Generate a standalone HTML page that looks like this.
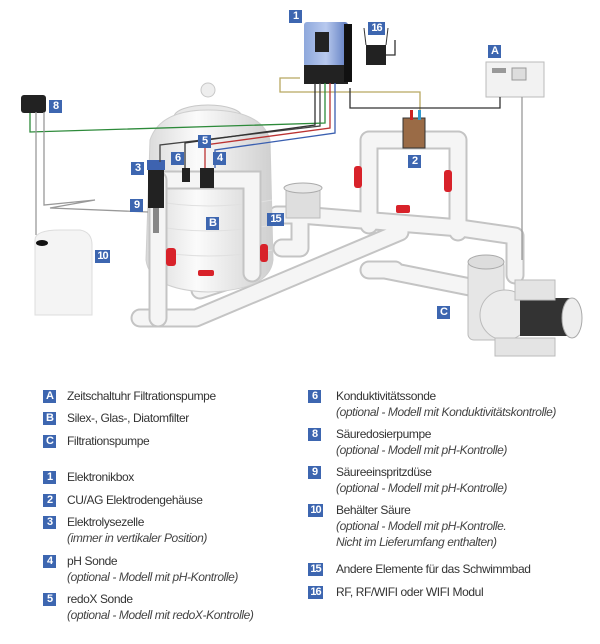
<!DOCTYPE html>
<html><head><meta charset="utf-8"><style>
body{margin:0;background:#fff;width:600px;height:644px;overflow:hidden;position:relative;font-family:"Liberation Sans",sans-serif}
svg{position:absolute;left:0;top:0}
.b{position:absolute;width:13px;height:13px;background:#3d66b0;color:#fff;font:bold 11px/13px "Liberation Sans",sans-serif;text-align:center;letter-spacing:-1px}
.t{position:absolute;font-size:12px;line-height:16px;color:#333;letter-spacing:-0.4px;white-space:nowrap}
.t i{color:#444}
</style></head><body>
<svg width="600" height="380" viewBox="0 0 600 380">
<defs>
<linearGradient id="tank" x1="0" x2="1"><stop offset="0" stop-color="#d9d9d9"/><stop offset=".4" stop-color="#fbfbfb"/><stop offset="1" stop-color="#cfcfcf"/></linearGradient>
<linearGradient id="box" x1="0" x2="1"><stop offset="0" stop-color="#8ea8dc"/><stop offset=".5" stop-color="#b8c9ee"/><stop offset="1" stop-color="#5d7bc0"/></linearGradient>
</defs>
<g fill="none" stroke-linecap="round" stroke-linejoin="round">
<g stroke="#c4c4c4" stroke-width="19">
<path d="M158 180 V318 H140 M140 318 H196 L400 232"/>
<path d="M158 180 H252 V273 L200 290"/>
<path d="M277 215 H300 V248 H282"/>
<path d="M300 215 L460 228 L515 236 V275"/>
<path d="M369 225 V140 H458 V232"/>
<path d="M369 270 H395 M385 270 L470 287"/>
</g>
<g stroke="#f5f5f5" stroke-width="15">
<path d="M158 180 V318 H140 M140 318 H196 L400 232"/>
<path d="M158 180 H252 V273 L200 290"/>
<path d="M277 215 H300 V248 H282"/>
<path d="M300 215 L460 228 L515 236 V275"/>
<path d="M369 225 V140 H458 V232"/>
<path d="M369 270 H395 M385 270 L470 287"/>
</g>
</g>
<ellipse cx="208" cy="117" rx="34" ry="12" fill="#e8e8e8" stroke="#c8c8c8"/>
<circle cx="208" cy="90" r="7" fill="#eee" stroke="#c8c8c8"/>
<path d="M150 140 Q160 110 208 110 Q262 110 270 140 L273 260 Q270 290 208 292 Q150 290 146 260 Z" fill="url(#tank)" stroke="#cfcfcf"/>
<g stroke="#e0e0e0" fill="none"><path d="M148 200 Q208 212 272 200"/><path d="M148 225 Q208 237 272 225"/><path d="M148 250 Q208 262 272 250"/></g>
<g fill="none" stroke-linecap="round">
<path d="M158 180 H252 V273" stroke="#c4c4c4" stroke-width="19"/>
<path d="M158 180 H252 V273" stroke="#f5f5f5" stroke-width="15"/>
<path d="M158 180 V318" stroke="#c4c4c4" stroke-width="19"/>
<path d="M158 180 V318" stroke="#f5f5f5" stroke-width="15"/>
</g>
<rect x="147" y="160" width="18" height="10" fill="#3e63b0"/>
<rect x="148" y="170" width="16" height="38" fill="#222"/>
<rect x="153" y="208" width="6" height="25" fill="#888"/>
<rect x="182" y="168" width="8" height="14" fill="#222"/><rect x="200" y="168" width="14" height="20" fill="#222"/>
<g fill="#d8222a"><rect x="166" y="248" width="10" height="18" rx="3"/><rect x="260" y="244" width="8" height="18" rx="3"/><rect x="198" y="270" width="16" height="6" rx="2"/><rect x="354" y="166" width="8" height="22" rx="3"/><rect x="444" y="170" width="8" height="22" rx="3"/><rect x="396" y="205" width="14" height="8" rx="2"/></g>
<rect x="286" y="188" width="34" height="30" fill="#dedede" stroke="#bbb"/>
<ellipse cx="303" cy="188" rx="19" ry="5" fill="#e9e9e9" stroke="#aaa"/>
<rect x="403" y="118" width="22" height="30" fill="#9a6b46" stroke="#333"/>
<rect x="410" y="110" width="3" height="10" fill="#c22"/><rect x="418" y="110" width="3" height="10" fill="#39c"/>
<rect x="468" y="260" width="36" height="80" rx="6" fill="#e6e6e6" stroke="#bbb"/>
<ellipse cx="486" cy="262" rx="18" ry="7" fill="#ddd" stroke="#aaa"/>
<circle cx="505" cy="315" r="25" fill="#ececec" stroke="#bbb"/>
<rect x="520" y="298" width="50" height="38" fill="#333"/>
<ellipse cx="572" cy="318" rx="10" ry="20" fill="#eee" stroke="#aaa"/>
<rect x="515" y="280" width="40" height="20" fill="#e4e4e4" stroke="#bbb"/>
<rect x="495" y="338" width="60" height="18" fill="#e4e4e4" stroke="#bbb"/>
<path d="M35 240 Q35 230 60 230 H80 Q92 232 92 245 V315 H35 Z" fill="#f4f4f4" stroke="#ddd"/>
<ellipse cx="42" cy="243" rx="6" ry="3" fill="#111"/>
<rect x="304" y="22" width="44" height="45" rx="3" fill="url(#box)"/>
<rect x="304" y="65" width="44" height="19" fill="#222"/>
<rect x="344" y="24" width="8" height="58" fill="#111"/>
<rect x="315" y="32" width="14" height="20" fill="#222"/>
<rect x="366" y="45" width="20" height="20" fill="#222"/>
<line x1="366" y1="45" x2="364" y2="28" stroke="#333"/><line x1="386" y1="45" x2="388" y2="28" stroke="#333"/>
<rect x="486" y="62" width="58" height="35" fill="#f2f2f2" stroke="#bbb"/>
<rect x="512" y="68" width="14" height="12" fill="#ddd" stroke="#999"/>
<rect x="492" y="68" width="14" height="5" fill="#999"/>
<rect x="21" y="95" width="25" height="18" rx="3" fill="#222"/>
<g fill="none" stroke-width="1.3">
<path d="M300 78 H280 V92 H420 V110" stroke="#b8a860"/>
<path d="M350 88 V108 H500 V97" stroke="#333"/>
<path d="M320 83 V126 L160 145 V162" stroke="#444"/>
<path d="M325 83 V123 L30 132 V113" stroke="#2d8a3a"/>
<path d="M330 83 V128 L205 145 V168" stroke="#b33"/>
<path d="M335 83 V133 L215 150 V168" stroke="#3a5fb0"/>
<path d="M315 83 V125 L185 143 V168" stroke="#333"/>
<path d="M44 112 V205 L95 200 L50 208 L148 212" stroke="#999"/>
<path d="M36 112 V235" stroke="#999"/>
<path d="M522 97 V260" stroke="#999"/>
<path d="M386 55 H395 V40" stroke="#333"/>
</g>
</svg>
<div class="b" style="left:289px;top:10px">1</div>
<div class="b" style="left:368px;top:22px;width:17px">16</div>
<div class="b" style="left:488px;top:45px">A</div>
<div class="b" style="left:49px;top:100px">8</div>
<div class="b" style="left:408px;top:155px">2</div>
<div class="b" style="left:131px;top:162px">3</div>
<div class="b" style="left:198px;top:135px">5</div>
<div class="b" style="left:171px;top:152px">6</div>
<div class="b" style="left:213px;top:152px">4</div>
<div class="b" style="left:130px;top:199px">9</div>
<div class="b" style="left:206px;top:217px">B</div>
<div class="b" style="left:267px;top:213px;width:17px">15</div>
<div class="b" style="left:95px;top:250px;width:15px">10</div>
<div class="b" style="left:437px;top:306px">C</div>

<div class="b" style="left:43px;top:390px">A</div><div class="t" style="left:67px;top:388px">Zeitschaltuhr Filtrationspumpe</div>
<div class="b" style="left:43px;top:412px">B</div><div class="t" style="left:67px;top:410px">Silex-, Glas-, Diatomfilter</div>
<div class="b" style="left:43px;top:435px">C</div><div class="t" style="left:67px;top:433px">Filtrationspumpe</div>
<div class="b" style="left:43px;top:471px">1</div><div class="t" style="left:67px;top:469px">Elektronikbox</div>
<div class="b" style="left:43px;top:494px">2</div><div class="t" style="left:67px;top:492px">CU/AG Elektrodengehäuse</div>
<div class="b" style="left:43px;top:516px">3</div><div class="t" style="left:67px;top:514px">Elektrolysezelle<br><i>(immer in vertikaler Position)</i></div>
<div class="b" style="left:43px;top:555px">4</div><div class="t" style="left:67px;top:553px">pH Sonde<br><i>(optional - Modell mit pH-Kontrolle)</i></div>
<div class="b" style="left:43px;top:593px">5</div><div class="t" style="left:67px;top:591px">redoX Sonde<br><i>(optional - Modell mit redoX-Kontrolle)</i></div>

<div class="b" style="left:308px;top:390px">6</div><div class="t" style="left:336px;top:388px">Konduktivitätssonde<br><i>(optional - Modell mit Konduktivitätskontrolle)</i></div>
<div class="b" style="left:308px;top:428px">8</div><div class="t" style="left:336px;top:426px">Säuredosierpumpe<br><i>(optional - Modell mit pH-Kontrolle)</i></div>
<div class="b" style="left:308px;top:466px">9</div><div class="t" style="left:336px;top:464px">Säureeinspritzdüse<br><i>(optional - Modell mit pH-Kontrolle)</i></div>
<div class="b" style="left:308px;top:504px;width:15px">10</div><div class="t" style="left:336px;top:502px">Behälter Säure<br><i>(optional - Modell mit pH-Kontrolle.<br>Nicht im Lieferumfang enthalten)</i></div>
<div class="b" style="left:308px;top:563px;width:15px">15</div><div class="t" style="left:336px;top:561px">Andere Elemente für das Schwimmbad</div>
<div class="b" style="left:308px;top:586px;width:15px">16</div><div class="t" style="left:336px;top:584px">RF, RF/WIFI oder WIFI Modul</div>
</body></html>
